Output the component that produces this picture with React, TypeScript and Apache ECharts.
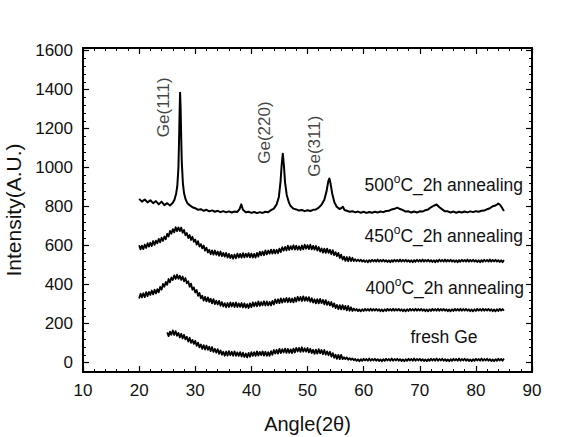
import React, { useEffect, useRef } from 'react';
import * as echarts from 'echarts';

// Shared 2θ grid (degrees, 0.25° step) for the broad-hump scans
const angleGrid = [
  20, 20.25, 20.5, 20.75, 21, 21.25, 21.5, 21.75, 22, 22.25, 22.5, 22.75, 23, 23.25, 23.5, 23.75, 24, 24.25, 24.5, 24.75,
  25, 25.25, 25.5, 25.75, 26, 26.25, 26.5, 26.75, 27, 27.25, 27.5, 27.75, 28, 28.25, 28.5, 28.75, 29, 29.25, 29.5, 29.75,
  30, 30.25, 30.5, 30.75, 31, 31.25, 31.5, 31.75, 32, 32.25, 32.5, 32.75, 33, 33.25, 33.5, 33.75, 34, 34.25, 34.5, 34.75,
  35, 35.25, 35.5, 35.75, 36, 36.25, 36.5, 36.75, 37, 37.25, 37.5, 37.75, 38, 38.25, 38.5, 38.75, 39, 39.25, 39.5, 39.75,
  40, 40.25, 40.5, 40.75, 41, 41.25, 41.5, 41.75, 42, 42.25, 42.5, 42.75, 43, 43.25, 43.5, 43.75, 44, 44.25, 44.5, 44.75,
  45, 45.25, 45.5, 45.75, 46, 46.25, 46.5, 46.75, 47, 47.25, 47.5, 47.75, 48, 48.25, 48.5, 48.75, 49, 49.25, 49.5, 49.75,
  50, 50.25, 50.5, 50.75, 51, 51.25, 51.5, 51.75, 52, 52.25, 52.5, 52.75, 53, 53.25, 53.5, 53.75, 54, 54.25, 54.5, 54.75,
  55, 55.25, 55.5, 55.75, 56, 56.25, 56.5, 56.75, 57, 57.25, 57.5, 57.75, 58, 58.25, 58.5, 58.75, 59, 59.25, 59.5, 59.75,
  60, 60.25, 60.5, 60.75, 61, 61.25, 61.5, 61.75, 62, 62.25, 62.5, 62.75, 63, 63.25, 63.5, 63.75, 64, 64.25, 64.5, 64.75,
  65, 65.25, 65.5, 65.75, 66, 66.25, 66.5, 66.75, 67, 67.25, 67.5, 67.75, 68, 68.25, 68.5, 68.75, 69, 69.25, 69.5, 69.75,
  70, 70.25, 70.5, 70.75, 71, 71.25, 71.5, 71.75, 72, 72.25, 72.5, 72.75, 73, 73.25, 73.5, 73.75, 74, 74.25, 74.5, 74.75,
  75, 75.25, 75.5, 75.75, 76, 76.25, 76.5, 76.75, 77, 77.25, 77.5, 77.75, 78, 78.25, 78.5, 78.75, 79, 79.25, 79.5, 79.75,
  80, 80.25, 80.5, 80.75, 81, 81.25, 81.5, 81.75, 82, 82.25, 82.5, 82.75, 83, 83.25, 83.5, 83.75, 84, 84.25, 84.5, 84.75,
  85,
];

// 450°C / 2h anneal
const intensity450 = [
  602, 581, 600, 582, 606, 588, 613, 595, 616, 598, 624, 604, 626, 612, 635, 617,
  641, 624, 647, 633, 661, 647, 676, 661, 685, 668, 695, 674, 694, 675, 693, 666,
  681, 653, 665, 639, 655, 629, 646, 620, 632, 605, 623, 595, 608, 586, 601, 574,
  590, 565, 579, 556, 576, 554, 575, 553, 570, 548, 570, 546, 563, 544, 563, 539,
  558, 536, 553, 533, 555, 535, 559, 539, 558, 538, 562, 540, 559, 542, 562, 540,
  560, 539, 558, 539, 563, 544, 569, 550, 570, 551, 576, 555, 575, 559, 580, 559,
  580, 560, 579, 561, 585, 567, 592, 574, 594, 575, 600, 578, 598, 581, 602, 580,
  600, 579, 597, 578, 601, 581, 605, 585, 603, 582, 605, 581, 599, 580, 599, 575,
  593, 570, 586, 564, 585, 563, 585, 563, 579, 556, 577, 551, 567, 546, 563, 537,
  554, 529, 544, 522, 542, 520, 542, 521, 538,
  521, 531, 520, 528, 520, 528, 518,
  526, 516, 525, 515, 526, 517, 528, 519, 527, 518, 529, 518, 527, 519, 528, 518,
  526, 516, 525, 515, 526, 517, 528, 519, 527, 518, 529, 518, 527, 519, 528, 518,
  526, 516, 525, 515, 526, 517, 528, 519, 527, 518, 529, 518, 527, 519, 528, 518,
  526, 516, 525, 515, 526, 517, 528, 519, 527, 518, 529, 518, 527, 519, 528, 518,
  526, 516, 525, 515, 526, 517, 528, 519, 527, 518, 529, 518, 527, 519, 528, 518,
  526, 516, 525, 515, 526, 517, 528, 519, 527, 518, 529, 518, 527, 519, 528, 518,
  526, 516, 525, 515, 526,
];

// 400°C / 2h anneal
const intensity400 = [
  329, 354, 335, 356, 336, 362, 341, 363, 347, 370, 350, 374, 355, 377, 361, 389,
  374, 404, 389, 414, 399, 429, 412, 437, 424, 448, 429, 451, 430, 446, 424, 442,
  417, 434, 407, 418, 389, 405, 374, 386, 360, 373, 343, 358, 330, 343, 318, 338,
  314, 335, 311, 328, 304, 326, 300, 318, 298, 317, 292, 311, 288, 305, 284, 306,
  285, 309, 288, 307, 285, 309, 285, 304, 286, 306, 283, 304, 282, 300, 280, 304,
  284, 309, 289, 309, 289, 314, 291, 311, 294, 315, 293, 314, 293, 312, 293, 317,
  298, 324, 305, 325, 305, 330, 308, 328, 311, 332, 310, 331, 310, 329, 309, 333,
  313, 338, 318, 337, 316, 340, 317, 336, 317, 336, 312, 331, 308, 325, 304, 326,
  304, 327, 305, 322, 299, 321, 296, 313, 293, 311, 286, 304, 280, 296, 274, 295,
  273, 295, 273, 291, 268, 291, 266, 284, 265,
  278, 267, 275, 264, 273, 263, 274, 265, 276, 267, 275, 266, 277, 266, 275, 267, 276, 266,
  274, 264, 273, 263, 274, 265, 276, 267, 275, 266, 277, 266, 275, 267, 276, 266,
  274, 264, 273, 263, 274, 265, 276, 267, 275, 266, 277, 266, 275, 267, 276, 266,
  274, 264, 273, 263, 274, 265, 276, 267, 275, 266, 277, 266, 275, 267, 276, 266,
  274, 264, 273, 263, 274, 265, 276, 267, 275, 266, 277, 266, 275, 267, 276, 266,
  274, 264, 273, 263, 274, 265, 276, 267, 275, 266, 277, 266, 275, 267, 276, 266,
  274, 264, 273, 263, 274, 265, 276, 267, 275, 266,
];

// As-deposited film, scanned from 25°
const freshAngles = angleGrid.slice(20);
const intensityFresh = [
  155, 136, 159, 143, 165, 142, 162, 138, 153, 129, 148, 124, 143, 119, 133, 108,
  128, 102, 117, 96, 112, 86, 103, 78, 93, 70, 90, 67, 88, 66, 82, 59,
  80, 55, 71, 51, 69, 45, 63, 40, 56, 35, 57, 36, 59, 38, 56, 35,
  58, 35, 53, 35, 54, 31, 51, 29, 47, 27, 50, 30, 54, 35, 54, 34,
  58, 36, 55, 38, 58, 36, 56, 35, 54, 35, 59, 40, 65, 46, 66, 46,
  71, 49, 69, 52, 72, 50, 71, 50, 68, 49, 72, 52, 76, 57, 76, 55,
  79, 56, 74, 56, 75, 52, 71, 49, 66, 45, 67, 46, 69, 48, 65, 43,
  65, 41, 58, 38, 56, 31, 49, 25, 41, 19, 40, 18, 40, 18,
  28, 18, 27, 15, 23, 14, 22, 12, 19, 9, 17, 7, 18, 9, 20, 11, 19, 10, 21, 10, 19, 11, 20, 10,
  18, 8, 17, 7, 18, 9, 20, 11, 19, 10, 21, 10, 19, 11, 20, 10,
  18, 8, 17, 7, 18, 9, 20, 11, 19, 10, 21, 10, 19, 11, 20, 10,
  18, 8, 17, 7, 18, 9, 20, 11, 19, 10, 21, 10, 19, 11, 20, 10,
  18, 8, 17, 7, 18, 9, 20, 11, 19, 10, 21, 10, 19, 11, 20, 10,
  18, 8, 17, 7, 18, 9, 20, 11, 19, 10, 21, 10, 19, 11, 20, 10,
  18, 8, 17, 7, 18, 9, 20, 11, 19, 10, 21,
];

// 500°C / 2h anneal: crystalline Ge reflections, finer steps across the peaks
const angles500 = [
  20, 20.5, 21, 21.5, 22, 22.5, 23, 23.5, 24, 24.5, 25, 25.5, 26, 26.3, 26.6, 26.8, 27.0, 27.1, 27.2, 27.3,
  27.4, 27.5, 27.6, 27.8, 28.0, 28.3, 28.6, 29.0, 29.5, 30.0, 30.5, 31.0, 31.5, 32.0, 32.5, 33.0, 33.5, 34.0, 34.5, 35.0,
  35.5, 36.0, 36.5, 37.0, 37.5, 37.9, 38.2, 38.5, 39.0, 39.5, 40.0, 40.5, 41.0, 41.5, 42.0, 42.5, 43.0, 43.5, 44.0, 44.5,
  44.9, 45.2, 45.4, 45.6, 45.8, 46.0, 46.3, 46.7, 47.0, 47.5, 48.0, 48.5, 49.0, 49.5, 50.0, 50.5, 51.0, 51.5, 52.0, 52.5,
  53.0, 53.4, 53.7, 53.9, 54.1, 54.4, 54.8, 55.2, 55.7, 56.0, 56.3, 56.6, 57.0, 57.5, 58.0, 58.5, 59.0, 59.5, 60.0, 60.5,
  61.0, 61.5, 62.0, 62.5, 63.0, 63.5, 64.0, 64.5, 65.0, 65.5, 66.0, 66.5, 67.0, 67.5, 68.0, 68.5, 69.0, 69.5, 70.0, 70.5,
  71.0, 71.5, 72.0, 72.5, 73.0, 73.5, 74.0, 74.5, 75.0, 75.5, 76.0, 76.5, 77.0, 77.5, 78.0, 78.5, 79.0, 79.5, 80.0, 80.5,
  81.0, 81.5, 82.0, 82.5, 83.0, 83.5, 84.0, 84.3, 84.6, 85.0,
];
const intensity500 = [
  840, 826, 837, 822, 833, 818, 829, 812, 826, 808, 818, 806, 820, 836, 868, 905, 1000, 1120, 1270, 1385,
  1300, 1150, 1030, 920, 870, 836, 818, 808, 797, 792, 784, 787, 779, 784, 776, 781, 774, 779, 772, 777,
  771, 776, 770, 775, 773, 788, 812, 784, 771, 774, 768, 773, 767, 772, 768, 774, 772, 782, 790, 812,
  850, 930, 1015, 1072, 1010, 925, 860, 820, 803, 790, 786, 780, 783, 777, 782, 778, 784, 786, 795, 810,
  835, 880, 930, 945, 920, 868, 822, 800, 788, 792, 800, 783, 779, 774, 777, 771, 775, 769, 774, 768,
  773, 769, 774, 770, 775, 772, 778, 779, 786, 789, 795, 788, 782, 775, 776, 770, 775, 770, 776, 775,
  782, 786, 797, 805, 811, 797, 786, 776, 776, 770, 775, 769, 774, 770, 775, 771, 776, 772, 777, 774,
  779, 780, 787, 792, 802, 806, 816, 810, 797, 778,
];

const yMajorTicks = [0, 200, 400, 600, 800, 1000, 1200, 1400, 1600];
const yMinorTicks = [
  0, 40, 80, 120, 160, 200, 240, 280, 320, 360, 400, 440, 480, 520, 560, 600, 640, 680, 720, 760, 800,
  840, 880, 920, 960, 1000, 1040, 1080, 1120, 1160, 1200, 1240, 1280, 1320, 1360, 1400, 1440, 1480,
  1520, 1560, 1600,
];

// Reflection tags, placed in data coordinates beside each peak
const peakLabels = ['Ge(111)', 'Ge(220)', 'Ge(311)'];
const peakLabelAngles = [24.3, 42.4, 51.3];
const peakLabelIntensities = [1310, 1180, 1110];

const sampleLabels = ['500', '450', '400'];

const FONT = '"Liberation Sans", Arial, Helvetica, sans-serif';
const INK = '#111';

const zip = (xs: number[], ys: number[]) => xs.map((x, i) => [x, ys[i]]);

const Y_MIN = -48;
const Y_MAX = 1614;

function xAxisCfg(pos: 'bottom' | 'top', labels: boolean) {
  return {
    type: 'value',
    position: pos,
    min: 10,
    max: 90,
    interval: 10,
    axisLine: { show: true, onZero: false, lineStyle: { color: '#000', width: 2 } },
    axisTick: { show: true, inside: true, length: 6, lineStyle: { color: '#000', width: 1.2 } },
    minorTick: { show: true, splitNumber: 5, length: 3, lineStyle: { color: '#000', width: 1 } },
    splitLine: { show: false },
    axisLabel: { show: labels, fontSize: 17, color: INK, fontFamily: FONT, margin: 10 },
    ...(labels
      ? {
          name: 'Angle(2θ)',
          nameLocation: 'middle',
          nameGap: 42,
          nameTextStyle: { fontSize: 20, color: INK, fontFamily: FONT },
        }
      : {}),
  };
}

function yAxisCfg(pos: 'left' | 'right', major: boolean, labels: boolean) {
  return {
    type: 'value',
    position: pos,
    min: Y_MIN,
    max: Y_MAX,
    axisLine: { show: major, onZero: false, lineStyle: { color: '#000', width: 2 } },
    axisTick: {
      show: true,
      inside: true,
      length: major ? 6 : 3,
      customValues: major ? yMajorTicks : yMinorTicks,
      lineStyle: { color: '#000', width: major ? 1.2 : 1 },
    },
    splitLine: { show: false },
    axisLabel: {
      show: labels,
      customValues: yMajorTicks,
      formatter: (v: number) => String(v),
      fontSize: 17,
      color: INK,
      fontFamily: FONT,
      margin: 10,
    },
    ...(labels
      ? {
          name: 'Intensity(A.U.)',
          nameLocation: 'middle',
          nameGap: 43,
          nameTextStyle: { fontSize: 21, color: INK, fontFamily: FONT },
        }
      : {}),
  };
}

function scan(name: string, data: number[][], width: number) {
  return {
    name,
    type: 'line',
    data,
    showSymbol: false,
    symbol: 'none',
    silent: true,
    lineStyle: { color: '#000', width, join: 'round' },
  };
}

const annealText = (temp: string) => `{n|${temp}}{s|o}{n|C_2h annealing}`;
const richStyles = {
  n: { fontSize: 17.5, fontFamily: FONT, color: INK, lineHeight: 24 },
  s: { fontSize: 12, fontFamily: FONT, color: INK, verticalAlign: 'top', lineHeight: 12 },
};

export default function App() {
  const ref = useRef<HTMLDivElement>(null);

  useEffect(() => {
    if (!ref.current) return;
    const chart = echarts.init(ref.current, null, { renderer: 'svg' });

    const rightText = (text: string, x: number, y: number) => ({
      type: 'text',
      x,
      y,
      style: {
        text,
        align: 'right',
        verticalAlign: 'middle',
        fontSize: 17.5,
        fontFamily: FONT,
        fill: INK,
        rich: richStyles,
      },
    });

    chart.setOption({
      animation: false,
      backgroundColor: '#fff',
      grid: {
        left: 83,
        top: 48,
        width: 449,
        height: 324,
        containLabel: false,
        outerBoundsMode: 'none',
      },
      xAxis: [xAxisCfg('bottom', true), xAxisCfg('top', false)],
      yAxis: [
        yAxisCfg('left', true, true),
        yAxisCfg('left', false, false),
        yAxisCfg('right', true, false),
        yAxisCfg('right', false, false),
      ],
      series: [
        scan('fresh Ge', zip(freshAngles, intensityFresh), 1.8),
        scan('400', zip(angleGrid, intensity400), 1.8),
        scan('450', zip(angleGrid, intensity450), 1.8),
        scan('500', zip(angles500, intensity500), 2),
        {
          name: 'peak tags',
          type: 'scatter',
          silent: true,
          symbolSize: 0,
          data: peakLabels.map((t, i) => ({
            value: [peakLabelAngles[i], peakLabelIntensities[i]],
            name: t,
          })),
          label: {
            show: true,
            position: 'inside',
            rotate: 90,
            formatter: (p: any) => p.name,
            fontSize: 17,
            fontFamily: FONT,
            color: INK,
            align: 'center',
            verticalAlign: 'middle',
          },
        },
      ],
      graphic: [
        rightText(annealText(sampleLabels[0]), 523, 185),
        rightText(annealText(sampleLabels[1]), 523, 236),
        rightText(annealText(sampleLabels[2]), 524, 288),
        {
          type: 'text',
          x: 444,
          y: 337,
          style: {
            text: 'fresh Ge',
            align: 'center',
            verticalAlign: 'middle',
            fontSize: 17.5,
            fontFamily: FONT,
            fill: INK,
          },
        },
      ],
    });

    return () => chart.dispose();
  }, []);

  return (
    <div
      ref={ref}
      style={{ position: 'absolute', left: 0, top: 0, width: 577, height: 437, background: '#fff' }}
    />
  );
}
